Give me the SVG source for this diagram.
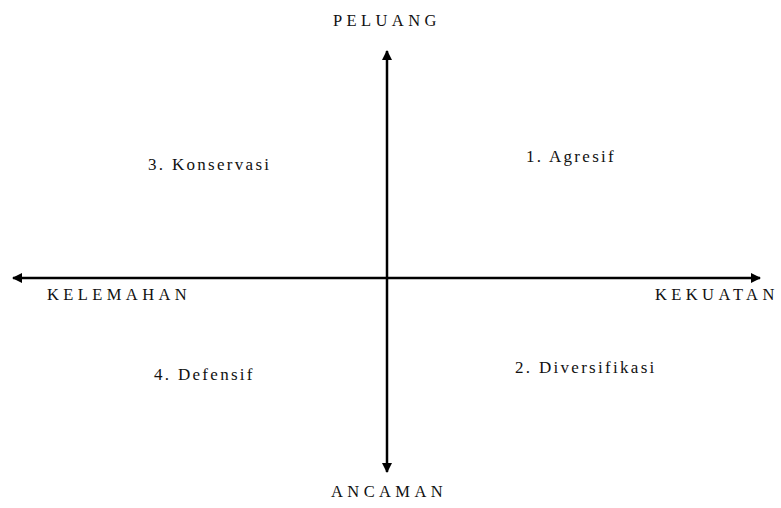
<svg xmlns="http://www.w3.org/2000/svg" width="781" height="508" viewBox="0 0 781 508">
<style>
text{font-family:"Liberation Serif","DejaVu Serif",serif;fill:#111;}
.ax{letter-spacing:4.4px;font-size:16.5px;}
.q{letter-spacing:2.3px;font-size:17px;}
.line{stroke:#000;stroke-width:2.5;fill:none;}
</style>
<defs>
<marker id="ah" viewBox="0 0 10 10" refX="9" refY="5" markerWidth="4.4" markerHeight="4" orient="auto" markerUnits="strokeWidth">
<path d="M0,0 L10,5 L0,10 z" fill="#000"/>
</marker>
</defs>
<g id="connectors">
<line class="line" x1="387" y1="278" x2="387" y2="51" marker-end="url(#ah)"/>
<line class="line" x1="387" y1="278" x2="387" y2="472" marker-end="url(#ah)"/>
<line class="line" x1="387" y1="278" x2="13" y2="278" marker-end="url(#ah)"/>
<line class="line" x1="387" y1="278" x2="760" y2="278" marker-end="url(#ah)"/>
</g>
<g id="peluang"><text class="ax" x="333" y="26">PELUANG</text></g>
<g id="ancaman"><text class="ax" x="331" y="497">ANCAMAN</text></g>
<g id="kelemahan"><text class="ax" x="47" y="300">KELEMAHAN</text></g>
<g id="kekuatan"><text class="ax" x="655" y="300">KEKUATAN</text></g>
<g id="q1"><text class="q" x="526" y="162">1. Agresif</text></g>
<g id="q2"><text class="q" x="515" y="373">2. Diversifikasi</text></g>
<g id="q3"><text class="q" x="148" y="170">3. Konservasi</text></g>
<g id="q4"><text class="q" x="154" y="380">4. Defensif</text></g>
</svg>
